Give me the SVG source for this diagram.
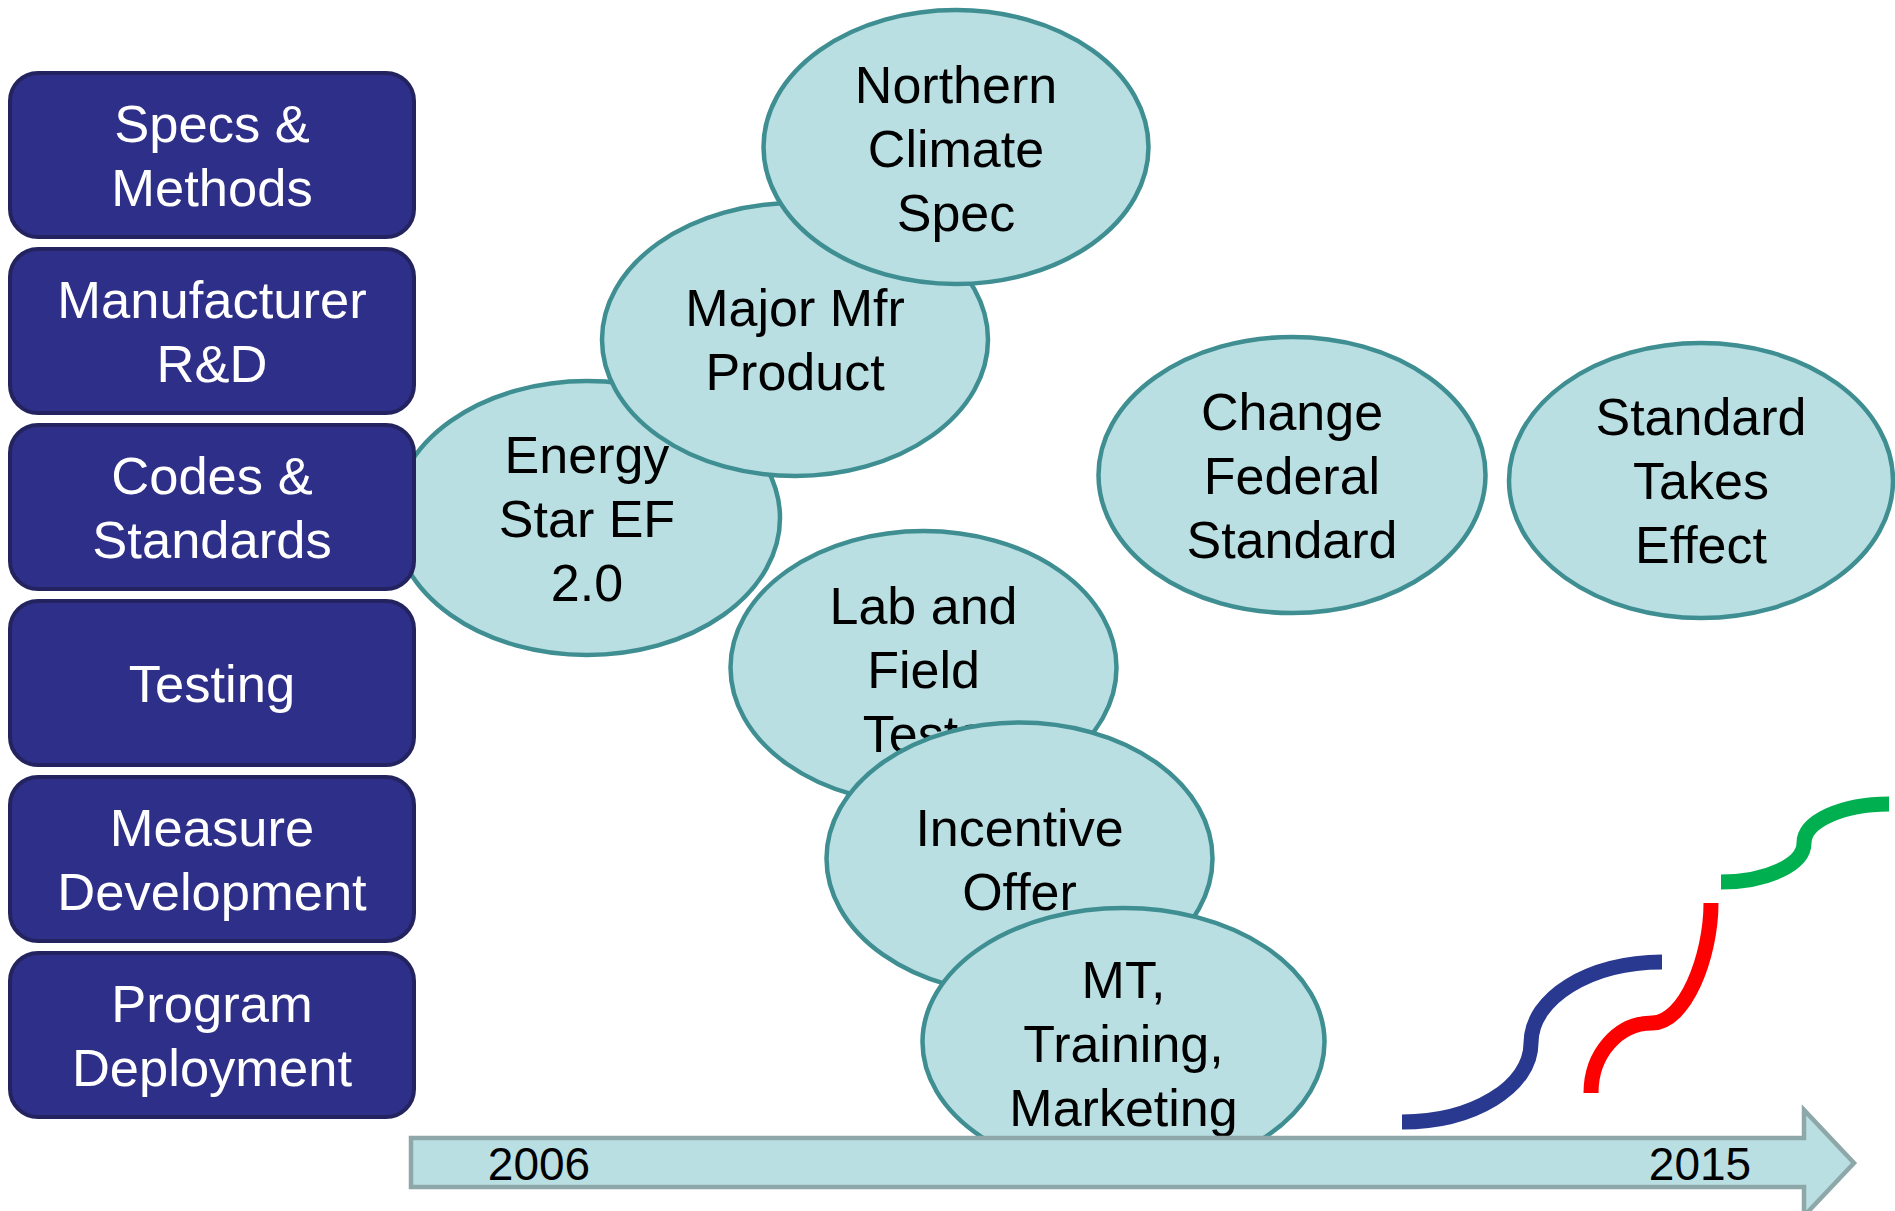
<svg xmlns="http://www.w3.org/2000/svg" width="1895" height="1211" viewBox="0 0 1895 1211">
<style>
.box{fill:#2e2f88;stroke:#23245f;stroke-width:4}
.bt{fill:#ffffff;font-family:"Liberation Sans",Arial,sans-serif;font-size:52.5px;text-anchor:middle}
.ell{fill:#b9dfe2;stroke:#3e8e92;stroke-width:4.5}
.et{fill:#000000;font-family:"Liberation Sans",Arial,sans-serif;font-size:52px;text-anchor:middle}
.yr{fill:#000000;font-family:"Liberation Sans",Arial,sans-serif;font-size:46px;text-anchor:middle}
.crv{fill:none;stroke-width:15;stroke-linecap:butt}
</style>
<rect width="1895" height="1211" fill="#ffffff"/>
<g id="energy-star">
<ellipse class="ell" cx="587" cy="518" rx="193" ry="137"/>
<text class="et" x="587" y="473">Energy</text>
<text class="et" x="587" y="537">Star EF</text>
<text class="et" x="587" y="601">2.0</text>
</g>
<g id="major-mfr">
<ellipse class="ell" cx="795" cy="339.5" rx="193" ry="136.5"/>
<text class="et" x="795" y="326">Major Mfr</text>
<text class="et" x="795" y="390">Product</text>
</g>
<g id="northern-climate">
<ellipse class="ell" cx="956" cy="147" rx="192.5" ry="137"/>
<text class="et" x="956" y="103">Northern</text>
<text class="et" x="956" y="167">Climate</text>
<text class="et" x="956" y="231">Spec</text>
</g>
<g id="change-federal">
<ellipse class="ell" cx="1292" cy="475" rx="193.5" ry="138"/>
<text class="et" x="1292" y="430">Change</text>
<text class="et" x="1292" y="494">Federal</text>
<text class="et" x="1292" y="558">Standard</text>
</g>
<g id="standard-takes">
<ellipse class="ell" cx="1701" cy="480.5" rx="192" ry="137.5"/>
<text class="et" x="1701" y="435">Standard</text>
<text class="et" x="1701" y="499">Takes</text>
<text class="et" x="1701" y="563">Effect</text>
</g>
<g id="lab-field">
<ellipse class="ell" cx="923.5" cy="667.5" rx="193" ry="136.5"/>
<text class="et" x="923.5" y="624">Lab and</text>
<text class="et" x="923.5" y="688">Field</text>
<text class="et" x="923.5" y="752">Tests</text>
</g>
<g id="incentive">
<ellipse class="ell" cx="1019.5" cy="858.5" rx="193" ry="136"/>
<text class="et" x="1019.5" y="846">Incentive</text>
<text class="et" x="1019.5" y="910">Offer</text>
</g>
<g id="mt-training">
<ellipse class="ell" cx="1123.5" cy="1042" rx="201" ry="134"/>
<text class="et" x="1123.5" y="998">MT,</text>
<text class="et" x="1123.5" y="1062">Training,</text>
<text class="et" x="1123.5" y="1126">Marketing</text>
</g>
<g id="specs">
<rect class="box" x="10" y="73" width="404" height="164" rx="28"/>
<text class="bt" x="212" y="142">Specs &amp;</text>
<text class="bt" x="212" y="206">Methods</text>
</g>
<g id="manufacturer">
<rect class="box" x="10" y="249" width="404" height="164" rx="28"/>
<text class="bt" x="212" y="318">Manufacturer</text>
<text class="bt" x="212" y="382">R&amp;D</text>
</g>
<g id="codes">
<rect class="box" x="10" y="425" width="404" height="164" rx="28"/>
<text class="bt" x="212" y="494">Codes &amp;</text>
<text class="bt" x="212" y="558">Standards</text>
</g>
<g id="testing">
<rect class="box" x="10" y="601" width="404" height="164" rx="28"/>
<text class="bt" x="212" y="702">Testing</text>
</g>
<g id="measure">
<rect class="box" x="10" y="777" width="404" height="164" rx="28"/>
<text class="bt" x="212" y="846">Measure</text>
<text class="bt" x="212" y="910">Development</text>
</g>
<g id="program">
<rect class="box" x="10" y="953" width="404" height="164" rx="28"/>
<text class="bt" x="212" y="1022">Program</text>
<text class="bt" x="212" y="1086">Deployment</text>
</g>
<g id="timeline">
<polygon points="411,1138 1804,1138 1804,1110 1854,1163 1804,1216 1804,1187 411,1187" fill="#b9dfe2" stroke="#8ea8a9" stroke-width="4.5"/>
<text class="yr" x="539" y="1180">2006</text>
<text class="yr" x="1700" y="1180">2015</text>
</g>
<g id="connectors">
<path class="crv" stroke="#2a3990" d="M1402,1122 C1473,1122 1531,1087 1531,1043 C1531,998 1590,962 1662,962"/>
<path class="crv" stroke="#ff0000" d="M1591,1093 C1591,1054 1618,1023 1652,1023 C1685,1023 1711,957 1711,903"/>
<path class="crv" stroke="#00b050" d="M1721,882 C1767,882 1804,864.5 1804,843 C1804,821.5 1842,804 1889,804"/>
</g>
</svg>
